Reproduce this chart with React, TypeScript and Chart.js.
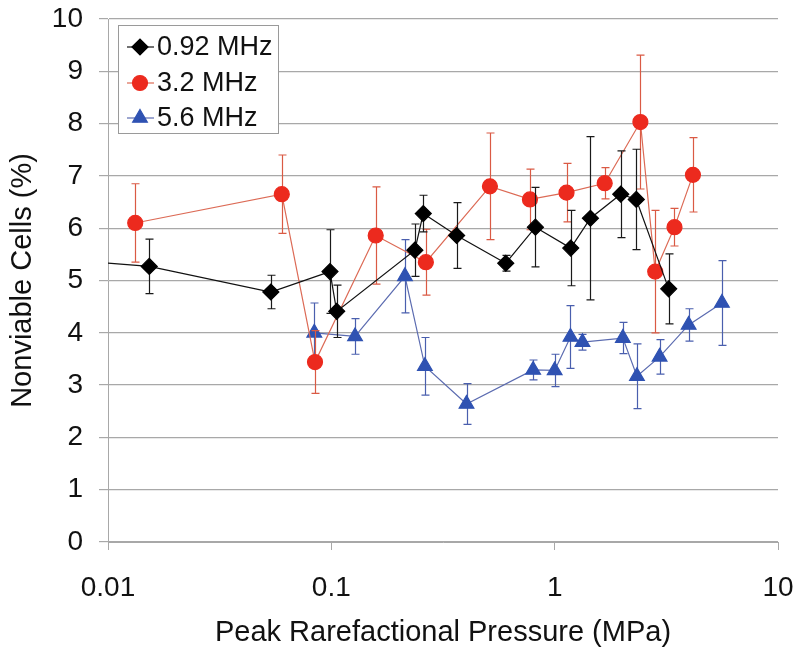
import React, { useEffect, useRef } from "react";
import { Chart, registerables } from "chart.js";
import { drawPoint } from "chart.js/helpers";

Chart.register(...registerables);

// ---- data ----
const xTickValues = [0.01, 0.1, 1, 10];
const yTickValues = [0, 1, 2, 3, 4, 5, 6, 7, 8, 9, 10];

const seriesNames = ["0.92 MHz", "3.2 MHz", "5.6 MHz"];

const lowX = [0.004, 0.0153, 0.0536, 0.0986, 0.1057, 0.2366, 0.258, 0.364, 0.604, 0.82, 1.18, 1.446, 1.977, 2.32, 3.24];
const lowY = [5.47, 5.27, 4.78, 5.17, 4.41, 5.58, 6.28, 5.86, 5.33, 6.02, 5.62, 6.19, 6.65, 6.55, 4.84];
const lowErr = [0.5, 0.52, 0.32, 0.8, 0.5, 0.5, 0.35, 0.63, 0.15, 0.76, 0.72, 1.56, 0.83, 0.96, 0.67];

const midX = [0.01324, 0.06, 0.0845, 0.158, 0.265, 0.513, 0.775, 1.13, 1.675, 2.42, 2.82, 3.44, 4.16];
const midY = [6.1, 6.65, 3.44, 5.86, 5.35, 6.8, 6.55, 6.68, 6.86, 8.03, 5.17, 6.02, 7.02];
const midErr = [0.75, 0.75, 0.6, 0.93, 0.63, 1.02, 0.58, 0.56, 0.3, 1.28, 1.17, 0.36, 0.71];

const highX = [0.0839, 0.1277, 0.2136, 0.2624, 0.403, 0.801, 1.0, 1.177, 1.332, 2.02, 2.336, 2.95, 3.98, 5.61];
const highY = [4.0, 3.93, 5.08, 3.36, 2.64, 3.29, 3.28, 3.92, 3.82, 3.9, 3.17, 3.54, 4.15, 4.57];
const highErr = [0.57, 0.34, 0.7, 0.55, 0.39, 0.19, 0.31, 0.6, 0.15, 0.3, 0.62, 0.33, 0.31, 0.81];

const FONT = "'Liberation Sans', Arial, Helvetica, sans-serif";

const toPoints = (xs: number[], ys: number[]) => xs.map((x, i) => ({ x, y: ys[i] }));

const errorBarPlugin = {
  id: "errorBars",
  beforeDatasetDraw(chart: any, args: any) {
    const ds = chart.data.datasets[args.index];
    const errs: number[] = ds.errors;
    if (!errs) return;
    const { ctx, chartArea } = chart;
    const xs = chart.scales.x;
    const ys = chart.scales.y;
    ctx.save();
    ctx.beginPath();
    ctx.rect(chartArea.left, chartArea.top, chartArea.right - chartArea.left, chartArea.bottom - chartArea.top);
    ctx.clip();
    ctx.strokeStyle = ds.errorColor;
    ctx.lineWidth = 1.2;
    const cap = 4;
    ds.data.forEach((p: any, i: number) => {
      const e = errs[i];
      if (!e) return;
      const px = Math.round(xs.getPixelForValue(p.x)) + 0.5;
      const top = ys.getPixelForValue(p.y + e);
      const bot = ys.getPixelForValue(p.y - e);
      ctx.beginPath();
      ctx.moveTo(px, top);
      ctx.lineTo(px, bot);
      ctx.moveTo(px - cap, top);
      ctx.lineTo(px + cap, top);
      ctx.moveTo(px - cap, bot);
      ctx.lineTo(px + cap, bot);
      ctx.stroke();
    });
    ctx.restore();
  },
};

const boxLegendPlugin = {
  id: "boxLegend",
  afterDraw(chart: any) {
    const { ctx, chartArea } = chart;
    const left = chartArea.left + 10;
    const top = chartArea.top + 6;
    const w = 160;
    const h = 108;
    ctx.save();
    ctx.fillStyle = "#ffffff";
    ctx.fillRect(left, top, w, h);
    ctx.strokeStyle = "#9a9a9a";
    ctx.lineWidth = 1;
    ctx.strokeRect(left + 0.5, top + 0.5, w, h);
    const rows = [22, 58, 93];
    chart.data.datasets.forEach((ds: any, i: number) => {
      const cy = top + rows[i];
      ctx.strokeStyle = ds.borderColor;
      ctx.lineWidth = ds.borderWidth;
      ctx.beginPath();
      ctx.moveTo(left + 9, cy);
      ctx.lineTo(left + 36, cy);
      ctx.stroke();
      ctx.fillStyle = ds.pointBackgroundColor;
      ctx.strokeStyle = ds.pointBorderColor;
      drawPoint(ctx, { pointStyle: ds.pointStyle, radius: ds.pointRadius, rotation: 0, borderWidth: 1 }, left + 22, cy);
      ctx.fillStyle = "#111";
      ctx.font = `27px ${FONT}`;
      ctx.textBaseline = "middle";
      ctx.textAlign = "left";
      ctx.fillText(ds.label, left + 39, cy + 1);
    });
    ctx.restore();
  },
};

export default function App() {
  const ref = useRef<HTMLCanvasElement | null>(null);

  useEffect(() => {
    if (!ref.current) return;
    const chart = new Chart(ref.current, {
      type: "scatter",
      data: {
        datasets: [
          {
            label: seriesNames[0],
            data: toPoints(lowX, lowY),
            errors: lowErr,
            errorColor: "#1a1a1a",
            showLine: true,
            borderColor: "#111111",
            borderWidth: 1.2,
            pointStyle: "rectRot",
            pointRadius: 8,
            pointBackgroundColor: "#000000",
            pointBorderColor: "#000000",
          } as any,
          {
            label: seriesNames[1],
            data: toPoints(midX, midY),
            errors: midErr,
            errorColor: "#da5a44",
            showLine: true,
            borderColor: "#dc6a55",
            borderWidth: 1.2,
            pointStyle: "circle",
            pointRadius: 7.5,
            pointBackgroundColor: "#ec2a1e",
            pointBorderColor: "#ec2a1e",
          } as any,
          {
            label: seriesNames[2],
            data: toPoints(highX, highY),
            errors: highErr,
            errorColor: "#4a5fae",
            showLine: true,
            borderColor: "#5b6bb0",
            borderWidth: 1.2,
            pointStyle: "triangle",
            pointRadius: 8.5,
            pointBackgroundColor: "#2f52b2",
            pointBorderColor: "#2f52b2",
          } as any,
        ],
      },
      options: {
        animation: false,
        responsive: false,
        devicePixelRatio: 1,
        layout: { padding: { top: 19, right: 22, bottom: 0, left: 0 } },
        plugins: {
          legend: { display: false },
          tooltip: { enabled: false },
        },
        scales: {
          x: {
            type: "logarithmic",
            min: 0.01,
            max: 10,
            afterBuildTicks: (s: any) => {
              s.ticks = xTickValues.map((v) => ({ value: v }));
            },
            afterFit: (s: any) => {
              s.height = 116;
              s.paddingLeft = 0;
              s.paddingRight = 0;
            },
            grid: {
              drawOnChartArea: false,
              drawTicks: true,
              tickLength: 8,
              color: "#a8a8a8",
            },
            border: { display: true, color: "#a8a8a8", width: 1 },
            ticks: {
              autoSkip: false,
              maxRotation: 0,
              padding: 21,
              color: "#111",
              font: { family: FONT, size: 28 },
              callback: (v: any) => String(v),
            },
            title: {
              display: true,
              text: "Peak Rarefactional Pressure (MPa)",
              color: "#111",
              font: { family: FONT, size: 29 },
              padding: { top: 0, bottom: 8 },
            },
          },
          y: {
            type: "linear",
            min: 0,
            max: 10,
            afterBuildTicks: (s: any) => {
              s.ticks = yTickValues.map((v) => ({ value: v }));
            },
            afterFit: (s: any) => {
              s.width = 108;
              s.paddingTop = 0;
              s.paddingBottom = 0;
            },
            grid: {
              color: "#a8a8a8",
              lineWidth: 1.2,
              tickLength: 9,
            },
            border: { display: true, color: "#a8a8a8", width: 1 },
            ticks: {
              autoSkip: false,
              padding: 16,
              color: "#111",
              font: { family: FONT, size: 28 },
            },
            title: {
              display: true,
              text: "Nonviable Cells (%)",
              color: "#111",
              font: { family: FONT, size: 29 },
              padding: { top: 6, bottom: 0 },
            },
          },
        },
      } as any,
      plugins: [errorBarPlugin, boxLegendPlugin],
    });
    return () => chart.destroy();
  }, []);

  return (
    <div style={{ position: "fixed", left: 0, top: 0, width: 800, height: 658, background: "#fff" }}>
      <canvas ref={ref} width={800} height={658} style={{ display: "block" }} />
    </div>
  );
}
